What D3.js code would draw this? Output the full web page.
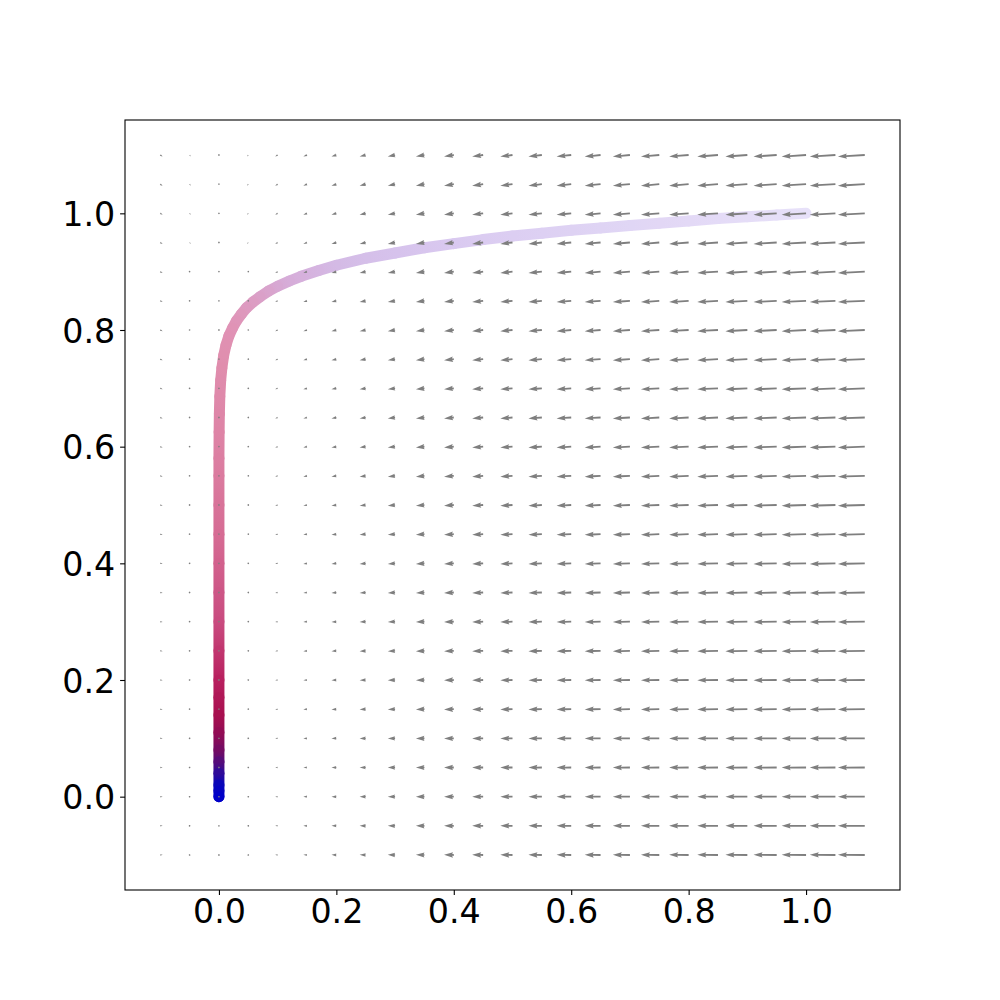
<!DOCTYPE html>
<html>
<head>
<meta charset="utf-8">
<script src="https://cdn.jsdelivr.net/npm/d3@7"></script>
<style>
  html, body { margin: 0; padding: 0; background: #fff; }
  svg { display: block; }
</style>
</head>
<body>
<div id="chart"></div>
<script>
// ---------------- data ----------------
// quiver grid positions (x columns, y rows)
const gridX = [-0.1,-0.05,0,0.05,0.1,0.15,0.2,0.25,0.3,0.35,0.4,0.45,0.5,0.55,0.6,0.65,0.7,0.75,0.8,0.85,0.9,0.95,1.0,1.05,1.1];
const gridY = [-0.1,-0.05,0,0.05,0.1,0.15,0.2,0.25,0.3,0.35,0.4,0.45,0.5,0.55,0.6,0.65,0.7,0.75,0.8,0.85,0.9,0.95,1.0,1.05,1.1];
// horizontal component per column, vertical component per row
const uByCol = [0.1,0.05,0,-0.05,-0.1,-0.15,-0.2,-0.25,-0.3,-0.35,-0.4,-0.45,-0.5,-0.55,-0.6,-0.65,-0.7,-0.75,-0.8,-0.85,-0.9,-0.95,-1.0,-1.05,-1.1];
const vByRow = [0.006,0.003,0,-0.003,-0.006,-0.009,-0.012,-0.015,-0.018,-0.021,-0.024,-0.027,-0.03,-0.033,-0.036,-0.039,-0.042,-0.045,-0.048,-0.051,-0.054,-0.057,-0.06,-0.063,-0.066];

// optimisation trajectory
const trajX = [1.0,0.95,0.9,0.85,0.8,0.75,0.7,0.65,0.6,0.55,0.5,0.45,0.4,0.35,0.3,0.25,0.2,0.17,0.14,0.12,0.1,0.085,0.07,0.058,0.047,0.038,0.03,0.023,0.017,0.012,0.008,0.005,0.003,0.0015,0.0007,0.0003,0,0,0,0,0,0,0,0,0,0,0,0,0,0,0,0,0,0];
const trajY = [1.0,0.997,0.994,0.991,0.987,0.983,0.979,0.975,0.971,0.966,0.961,0.955,0.948,0.941,0.932,0.923,0.911,0.902,0.892,0.884,0.875,0.867,0.857,0.848,0.838,0.827,0.816,0.803,0.79,0.774,0.756,0.735,0.714,0.686,0.656,0.625,0.58,0.55,0.5,0.45,0.4,0.35,0.3,0.25,0.2,0.17,0.14,0.11,0.08,0.06,0.04,0.02,0.01,0.0];

// colour of the trajectory versus path distance from its end (data units)
const colorDist  = [0, 0.02, 0.045, 0.07, 0.1, 0.14, 0.2, 0.3, 0.45, 0.6, 0.75, 0.8, 0.86, 0.93, 1.04, 1.25, 1.85];
const colorStops = ["#0000c8","#0a06b8","#3a0c90","#6a0c68","#8c0a55","#a8104f","#b8205f","#c94b7f","#d66c94","#dd82a4","#e08eae","#e092b5","#dc9cc2","#d6acd8","#d4bde8","#dacbf1","#e8e2f9"];

const xTicks = [0.0,0.2,0.4,0.6,0.8,1.0];
const yTicks = [0.0,0.2,0.4,0.6,0.8,1.0];

// ---------------- layout ----------------
const W = 1000, H = 1000;
const L = 125, R = 900, T = 120, B = 890;

const svg = d3.select("#chart").append("svg").attr("width", W).attr("height", H);
const defs = svg.append("defs");

const x = d3.scaleLinear().domain([-0.16, 1.16]).range([L, R]);
const y = d3.scaleLinear().domain([-0.16, 1.16]).range([B, T]);
const col = d3.scaleLinear().domain(colorDist).range(colorStops).interpolate(d3.interpolateRgb).clamp(true);

defs.append("clipPath").attr("id", "clip")
  .append("rect").attr("x", L).attr("y", T).attr("width", R - L).attr("height", B - T);

const plot = svg.append("g").attr("clip-path", "url(#clip)");

// ---------------- trajectory ----------------
const n = trajX.length;
const distFromEnd = new Array(n).fill(0);
for (let i = n - 2; i >= 0; i--) {
  distFromEnd[i] = distFromEnd[i + 1] + Math.hypot(trajX[i] - trajX[i + 1], trajY[i] - trajY[i + 1]);
}
const tg = plot.append("g");
for (let i = 0; i < n - 1; i++) {
  const x1 = x(trajX[i]), y1 = y(trajY[i]), x2 = x(trajX[i + 1]), y2 = y(trajY[i + 1]);
  const gid = "tg" + i;
  const g = defs.append("linearGradient").attr("id", gid).attr("gradientUnits", "userSpaceOnUse")
    .attr("x1", x1).attr("y1", y1).attr("x2", x2).attr("y2", y2 + (x1 === x2 && y1 === y2 ? 0.01 : 0));
  g.append("stop").attr("offset", 0).attr("stop-color", col(distFromEnd[i]));
  g.append("stop").attr("offset", 1).attr("stop-color", col(distFromEnd[i + 1]));
  tg.append("line")
    .attr("x1", x1).attr("y1", y1).attr("x2", x2).attr("y2", y2)
    .attr("stroke", `url(#${gid})`)
    .attr("stroke-width", 11)
    .attr("stroke-linecap", "round");
}
tg.append("circle").attr("cx", x(trajX[n - 1])).attr("cy", y(trajY[n - 1]))
  .attr("r", 5.5).attr("fill", col(0));

// ---------------- quiver (matplotlib-like arrow shapes) ----------------
const pxPerUnit = 24.4;     // arrow length scale (px per vector unit)
const w = 1.8;              // shaft width in px
const headwidth = 3, headlength = 5, headaxislength = 4.5, minshaft = 1, minlength = 1;

function arrowPoints(lenPx) {
  const len = lenPx / w; // in width units
  const minsh = minshaft * headlength;
  let X, Y;
  if (len < minlength) {
    X = []; Y = [];
    for (let k = 0; k < 8; k++) {
      const th = k * Math.PI / 3;
      X.push(Math.cos(th) * minlength * 0.5);
      Y.push(Math.sin(th) * minlength * 0.5);
    }
  } else {
    let xs, ys;
    if (len < minsh) {
      const s = len / minsh;
      xs = [0, minsh - headaxislength, minsh - headlength, minsh].map(v => v * s);
      ys = [0.5, 0.5, 0.5 * headwidth, 0].map(v => v * s);
    } else {
      xs = [0, len - headaxislength, len - headlength, len];
      ys = [0.5, 0.5, 0.5 * headwidth, 0];
    }
    const ii = [0, 1, 2, 3, 2, 1, 0, 0];
    X = ii.map(k => xs[k]);
    Y = ii.map((k, j) => (j >= 3 && j < 7 ? -ys[k] : ys[k]));
  }
  return X.map((v, j) => [v * w, Y[j] * w]);
}

const qg = plot.append("g").attr("fill", "#7f7f7f").attr("stroke", "none");
gridY.forEach((gy, r) => {
  gridX.forEach((gx, c) => {
    const u = uByCol[c], v = vByRow[r];
    const lenPx = Math.hypot(u, v) * pxPerUnit;
    const ang = Math.atan2(-v, u) * 180 / Math.PI; // screen coords (y down)
    const pts = arrowPoints(lenPx);
    qg.append("polygon")
      .attr("points", pts.map(p => p[0].toFixed(3) + "," + p[1].toFixed(3)).join(" "))
      .attr("transform", `translate(${x(gx)},${y(gy)}) rotate(${ang})`);
  });
});

// ---------------- axes ----------------
const fs = "33.3px";
const xAxis = svg.append("g").attr("transform", `translate(0,${B})`)
  .call(d3.axisBottom(x).tickValues(xTicks).tickFormat(d3.format(".1f")).tickSize(4.9).tickPadding(4.9));
const yAxis = svg.append("g").attr("transform", `translate(${L},0)`)
  .call(d3.axisLeft(y).tickValues(yTicks).tickFormat(d3.format(".1f")).tickSize(4.9).tickPadding(4.9));
[xAxis, yAxis].forEach(a => {
  a.select(".domain").remove();
  a.selectAll(".tick line").attr("stroke", "#000").attr("stroke-width", 1.1);
  a.selectAll(".tick text").attr("fill", "#000").style("font-size", fs).style("font-family", "'DejaVu Sans', sans-serif");
});
yAxis.selectAll(".tick text").attr("dy", "0.36em");

svg.append("rect").attr("x", L).attr("y", T).attr("width", R - L).attr("height", B - T)
  .attr("fill", "none").attr("stroke", "#000").attr("stroke-width", 1.1);
</script>
</body>
</html>
